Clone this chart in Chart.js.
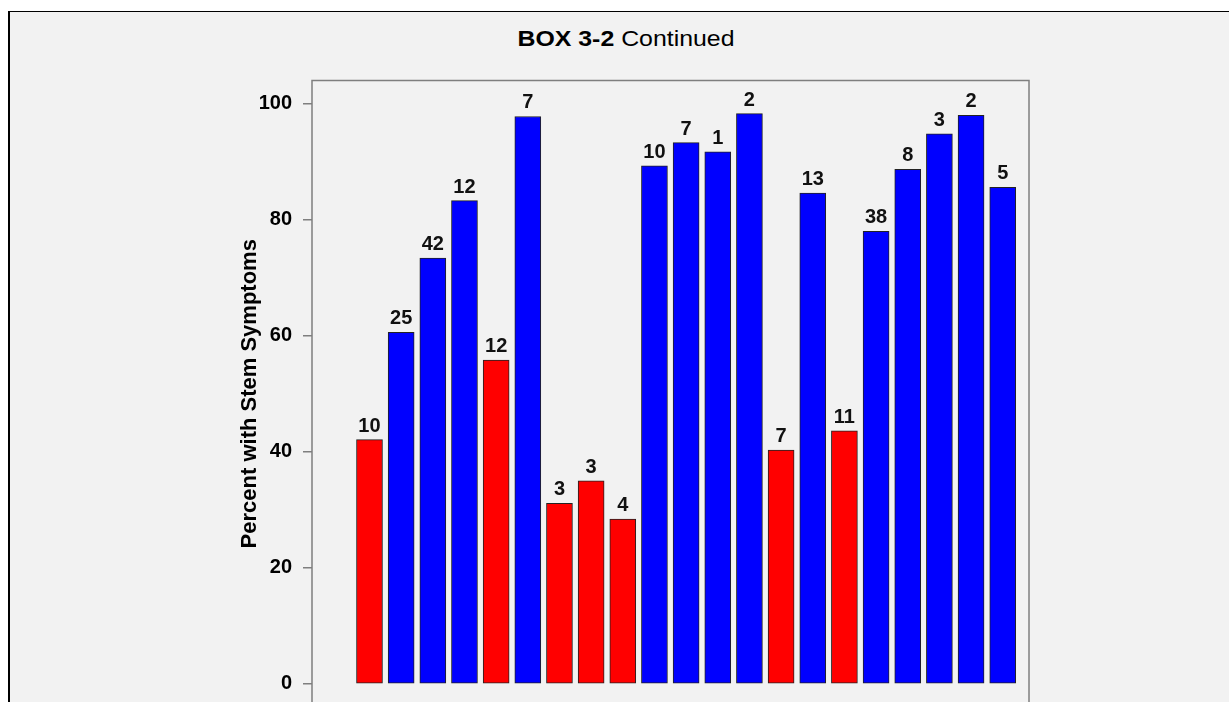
<!DOCTYPE html>
<html>
<head>
<meta charset="utf-8">
<script src="https://cdn.jsdelivr.net/npm/chart.js@4.4.1/dist/chart.umd.min.js"></script>
<style>
    html, body { margin: 0; padding: 0; background: #fff; overflow: hidden; width: 1229px; height: 702px; }
    .panel { position: absolute; left: 8px; top: 11px; width: 1300px; height: 800px; background: #f2f2f2;
             border-top: 1px solid #000; border-left: 2px solid #000; }
    .title { position: absolute; left: 0; top: 28px; width: 1252px; text-align: center;
             font: 22px "Liberation Sans", Arial, sans-serif; line-height: 22px; color: #000;
             transform: scaleX(1.13); transform-origin: center; }
    #chart { position: absolute; left: 0; top: 0; }
</style>
</head>
<body>
<div class="panel"></div>
<div class="title"><b>BOX 3-2</b> Continued</div>
<canvas id="chart" width="1229" height="730"></canvas>
<script>
// Values
const percent = [42.1, 60.6, 73.4, 83.3, 55.8, 97.8, 31.1, 35.0, 28.4, 89.3, 93.3,
                 91.7, 98.3, 40.3, 84.6, 43.6, 78.0, 88.7, 94.8, 98.0, 85.6];
const counts = [10, 25, 42, 12, 12, 7, 3, 3, 4, 10, 7, 1, 2, 7, 13, 11, 38, 8, 3, 2, 5];
const group = ['red', 'blue', 'blue', 'blue', 'red', 'blue', 'red', 'red', 'red', 'blue', 'blue',
               'blue', 'blue', 'red', 'blue', 'red', 'blue', 'blue', 'blue', 'blue', 'blue'];
const yTicks = [0, 20, 40, 60, 80, 100];

const groupColor = { red: '#ff0000', blue: '#0000ff' };
const FONT = '"Liberation Sans", Arial, Helvetica, sans-serif';

// box round the plot area
const frame = {
    id: 'frame',
    afterDraw(chart) {
        const a = chart.chartArea, ctx = chart.ctx;
        ctx.save();
        ctx.strokeStyle = '#7f7f7f';
        ctx.lineWidth = 1.5;
        ctx.strokeRect(a.left, a.top, a.right - a.left, a.bottom - a.top);
        ctx.restore();
    }
};

// counts written above each bar
const countLabels = {
    id: 'countLabels',
    afterDatasetsDraw(chart) {
        const ctx = chart.ctx;
        const meta = chart.getDatasetMeta(0);
        ctx.save();
        ctx.font = 'bold 20px ' + FONT;
        ctx.fillStyle = '#111';
        ctx.textAlign = 'center';
        ctx.textBaseline = 'alphabetic';
        meta.data.forEach((bar, i) => {
            ctx.fillText(String(counts[i]), bar.x, bar.y - 8);
        });
        ctx.restore();
    }
};

new Chart(document.getElementById('chart'), {
    type: 'bar',
    data: {
        datasets: [{
            data: percent.map((v, i) => ({ x: i, y: v })),
            backgroundColor: group.map(g => groupColor[g]),
            borderColor: '#222',
            borderWidth: 1,
            borderSkipped: false,
            barThickness: 26
        }]
    },
    options: {
        responsive: false,
        animation: false,
        devicePixelRatio: 1,
        layout: { padding: { left: 0, top: 80.5, right: 200, bottom: 18.8 } },
        plugins: {
            legend: { display: false },
            tooltip: { enabled: false }
        },
        scales: {
            x: {
                type: 'linear',
                display: false,
                offset: false,
                min: -1.816,
                max: 20.83
            },
            y: {
                min: -4,
                max: 104,
                afterFit: scale => { scale.width = 312; },
                afterBuildTicks: axis => { axis.ticks = yTicks.map(v => ({ value: v })); },
                border: { display: false },
                grid: {
                    drawOnChartArea: false,
                    drawTicks: true,
                    tickLength: 9,
                    color: '#7f7f7f',
                    lineWidth: 1.5
                },
                ticks: {
                    padding: 11,
                    color: '#000',
                    font: { family: FONT, size: 20, weight: 'bold' }
                },
                title: {
                    display: true,
                    text: 'Percent with Stem Symptoms',
                    color: '#000',
                    font: { family: FONT, size: 22, weight: 'bold' },
                    padding: { top: 237, bottom: 0 }
                }
            }
        }
    },
    plugins: [frame, countLabels]
});
</script>
</body>
</html>
